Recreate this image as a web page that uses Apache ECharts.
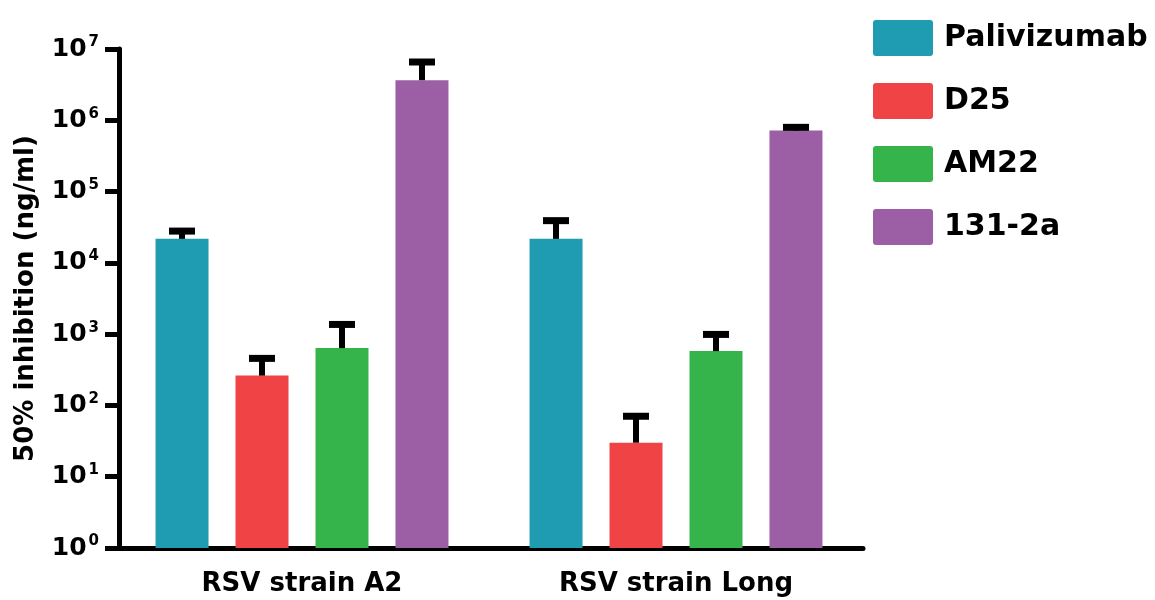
<!DOCTYPE html>
<html lang="en">
<head>
<meta charset="UTF-8">
<title>RSV inhibition</title>
<script src="https://cdn.jsdelivr.net/npm/echarts@6/dist/echarts.min.js"></script>
<style>
    body{
        margin: 0px;
        padding: 0px;
        background-color: #ffffff;
    }
    #chart{
        width: 1155px;
        height: 600px;
    }
</style>
</head>
<body>
<div id="chart"></div>
<script>
var categories = ['RSV strain A2', 'RSV strain Long'];
var seriesNames = ['Palivizumab', 'D25', 'AM22', '131-2a'];
var colors = ['#1f9bb2', '#ef4346', '#34b44a', '#9c5ea5'];

// mean IC50 values (ng/ml)
var palivizumab = [21700, 21700];
var d25 = [262, 30];
var am22 = [637, 578];
var mab131 = [3650000, 718000];

// upper end of the error bar (ng/ml)
var palivizumabErr = [27900, 39100];
var d25Err = [457, 70.5];
var am22Err = [1368, 991];
var mab131Err = [6570000, 796000];

var means = [palivizumab, d25, am22, mab131];
var errs = [palivizumabErr, d25Err, am22Err, mab131Err];

var FONT = 'DejaVu Sans';
var BAR_W = 53;
var BAR_GAP = 27;
var CAP_W = 26;

var chart = echarts.init(document.getElementById('chart'), null, {renderer: 'canvas'});

function barSeries(i) {
    return {
        type: 'bar',
        name: seriesNames[i],
        data: means[i],
        barWidth: BAR_W,
        barGap: (BAR_GAP / BAR_W * 100).toFixed(1) + '%',
        itemStyle: {color: colors[i]},
        z: 2
    };
}

function errorSeries(i) {
    var data = categories.map(function (c, k) {
        return [k, means[i][k], errs[i][k]];
    });
    return {
        type: 'custom',
        name: 'err ' + seriesNames[i],
        z: 5,
        data: data,
        encode: {x: 0, y: [1, 2]},
        renderItem: function (params, api) {
            var base = api.coord([api.value(0), api.value(1)]);
            var top = api.coord([api.value(0), api.value(2)]);
            // same offset as the grouped bar layout
            var x = base[0] + (i - 1.5) * (BAR_W + BAR_GAP);
            var half = CAP_W / 2;
            return {
                type: 'group',
                children: [
                    {type: 'line', shape: {x1: x, y1: base[1], x2: x, y2: top[1]},
                     style: {stroke: '#000', lineWidth: 6}},
                    {type: 'line', shape: {x1: x - half, y1: top[1], x2: x + half, y2: top[1]},
                     style: {stroke: '#000', lineWidth: 7}}
                ]
            };
        }
    };
}

var series = [];
for (var i = 0; i < seriesNames.length; i++) series.push(barSeries(i));
for (var j = 0; j < seriesNames.length; j++) series.push(errorSeries(j));

chart.setOption({
    animation: false,
    color: colors,
    textStyle: {fontFamily: FONT},
    grid: {left: 115, right: 292, top: 49, bottom: 52, containLabel: false},
    legend: {
        orient: 'vertical',
        left: 868,
        top: 15,
        itemWidth: 60,
        itemHeight: 36,
        itemGap: 27,
        icon: 'path://M3,0 L57,0 Q60,0 60,3 L60,33 Q60,36 57,36 L3,36 Q0,36 0,33 L0,3 Q0,0 3,0 Z',
        selectedMode: false,
        data: seriesNames,
        textStyle: {fontFamily: FONT, fontWeight: 'bold', fontSize: 30, color: '#000', padding: [6, 0, 0, 6]}
    },
    xAxis: {
        type: 'category',
        data: categories,
        axisLine: {lineStyle: {color: '#000', width: 5}},
        axisTick: {alignWithLabel: true, length: 10, lineStyle: {color: '#000', width: 5}},
        axisLabel: {color: '#000', fontFamily: FONT, fontWeight: 'bold', fontSize: 26, margin: 23}
    },
    yAxis: {
        type: 'log',
        logBase: 10,
        min: 1,
        max: 10000000,
        interval: 1,
        offset: -4,
        name: '50% inhibition (ng/ml)',
        nameLocation: 'middle',
        nameRotate: 90,
        nameGap: 80,
        nameTextStyle: {color: '#000', fontFamily: FONT, fontWeight: 'bold', fontSize: 26},
        axisLine: {show: true, lineStyle: {color: '#000', width: 5}},
        axisTick: {show: true, length: 14, lineStyle: {color: '#000', width: 5}},
        splitLine: {show: false},
        minorTick: {show: false},
        axisLabel: {
            margin: 20,
            formatter: function (v) {
                return '{b|10}{s|' + Math.round(Math.log10(v)) + '}';
            },
            rich: {
                b: {color: '#000', fontFamily: FONT, fontWeight: 'bold', fontSize: 25, lineHeight: 28},
                s: {color: '#000', fontFamily: FONT, fontWeight: 'bold', fontSize: 15, verticalAlign: 'top', padding: [0, 0, 0, 2]}
            }
        }
    },
    series: series
});
</script>
</body>
</html>
